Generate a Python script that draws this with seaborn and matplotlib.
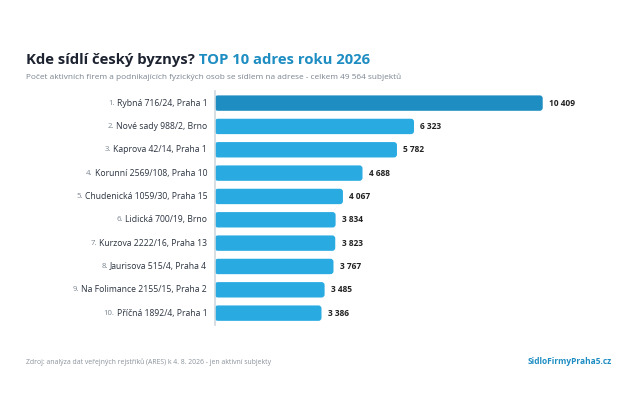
import matplotlib
matplotlib.use("Agg")
import matplotlib.pyplot as plt
import seaborn as sns
import pandas as pd
from matplotlib.patches import FancyBboxPatch

# data
ranks = ["1.", "2.", "3.", "4.", "5.", "6.", "7.", "8.", "9.", "10."]
addresses = [
    "Rybná 716/24, Praha 1",
    "Nové sady 988/2, Brno",
    "Kaprova 42/14, Praha 1",
    "Korunní 2569/108, Praha 10",
    "Chudenická 1059/30, Praha 15",
    "Lidická 700/19, Brno",
    "Kurzova 2222/16, Praha 13",
    "Jaurisova 515/4, Praha 4",
    "Na Folimance 2155/15, Praha 2",
    "Příčná 1892/4, Praha 1",
]
counts = [10409, 6323, 5782, 4688, 4067, 3834, 3823, 3767, 3485, 3386]

TOP_BLUE = "#1e8dc2"
BAR_BLUE = "#29abe2"
DARK = "#1d2330"
GREY = "#7a8490"

df = pd.DataFrame({"adresa": addresses, "pocet": counts})
palette = [TOP_BLUE] + [BAR_BLUE] * (len(counts) - 1)

sns.set_theme(style="white")
plt.rcParams["font.family"] = ["Open Sans", "DejaVu Sans"]

fig = plt.figure(figsize=(6.3, 4.01), dpi=100)
ax = fig.add_axes([0.341, 0.190, 0.60, 0.582])

sns.barplot(data=df, x="pocet", y="adresa", hue="adresa", palette=palette,
            legend=False, width=0.66, ax=ax, saturation=1)
ax.set_xlim(0, 12000)

# swap plain bars for ones with rounded corners
x_per_px = 12000 / (0.60 * 630)
y_per_px = 10 / (0.582 * 401)
for p in list(ax.patches):
    x0, y0, w, h = p.get_x(), p.get_y(), p.get_width(), p.get_height()
    rb = FancyBboxPatch((x0, y0), w, h,
                        boxstyle=f"round,pad=0,rounding_size={3 * x_per_px}",
                        mutation_aspect=y_per_px / x_per_px,
                        facecolor=p.get_facecolor(), edgecolor="none", zorder=2)
    p.remove()
    ax.add_patch(rb)

for i, v in enumerate(counts):
    ax.annotate(f"{v:,}".replace(",", " "), xy=(v, i), xytext=(4.5, 0),
                textcoords="offset points", ha="left", va="center",
                fontsize=6, fontweight="bold", color="#222222")

# category labels: grey rank + address
ax.set_yticks(range(len(addresses)))
ax.set_yticklabels([])
ax.tick_params(axis="y", length=0)
for i, (r, a) in enumerate(zip(ranks, addresses)):
    t = ax.annotate(a, xy=(0, i), xycoords=("axes fraction", "data"),
                    xytext=(-5.5, 0), textcoords="offset points",
                    ha="right", va="center", fontsize=6.2, color="#2b3340")
    ax.annotate(r, xy=(0, 0.5), xycoords=t, xytext=(-1.5, 0),
                textcoords="offset points", ha="right", va="center",
                fontsize=5.6, color=GREY)

ax.set_xticks([])
ax.set_xlabel("")
ax.set_ylabel("")
for s in ["top", "right", "bottom"]:
    ax.spines[s].set_visible(False)
ax.spines["left"].set_color("#cfd8df")
ax.spines["left"].set_linewidth(1.2)

# titles
t1 = fig.text(26 / 630, 1 - 64 / 401, "Kde sídlí český byznys?", fontsize=10.7,
              fontweight="bold", color=DARK, ha="left", va="baseline")
plt.annotate(" TOP 10 adres roku 2026", xy=(1, 0), xycoords=t1,
             ha="left", va="bottom", fontsize=10.7, fontweight="bold",
             color=TOP_BLUE, annotation_clip=False)
fig.text(26 / 630, 1 - 79 / 401,
         "Počet aktivních firem a podnikajících fyzických osob se sídlem na adrese - celkem 49 564 subjektů",
         fontsize=5.95, color=GREY, ha="left", va="baseline")

# footer
fig.text(26 / 630, 1 - 364 / 401,
         "Zdroj: analýza dat veřejných rejstříků (ARES) k 4. 8. 2026 - jen aktivní subjekty",
         fontsize=4.95, color="#8a929b", ha="left", va="baseline")
fig.text(612 / 630, 1 - 364 / 401, "SidloFirmyPraha5.cz", fontsize=6,
         fontweight="bold", color=TOP_BLUE, ha="right", va="baseline")

fig.savefig("out.png", dpi=100, facecolor="white")
